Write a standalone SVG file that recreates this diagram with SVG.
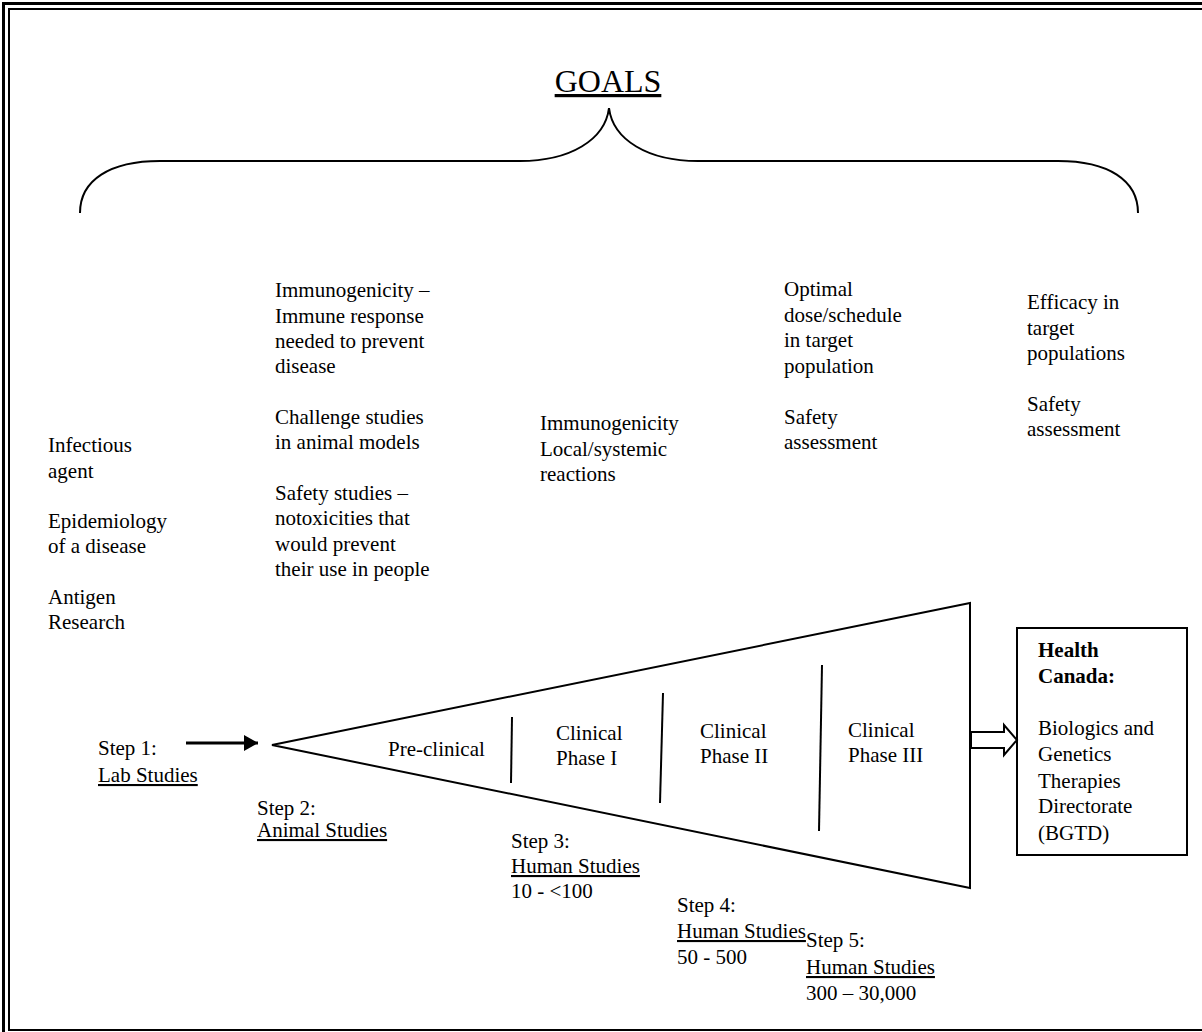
<svg xmlns="http://www.w3.org/2000/svg" width="1202" height="1032" viewBox="0 0 1202 1032">
<defs>
<style>
text{font-family:"Liberation Serif","Times New Roman",serif;font-size:21px;fill:#000}
.u{text-decoration:underline}
.b{font-weight:bold}
.ln{stroke:#000;stroke-width:2;fill:none}
</style>
<marker id="ah" viewBox="0 0 14 16" refX="14" refY="8" markerWidth="14" markerHeight="16" markerUnits="userSpaceOnUse" orient="auto">
<path d="M0,0 L14,8 L0,16 Z" fill="#000"/>
</marker>
</defs>
<rect width="1202" height="1032" fill="#fff"/>
<g id="page-border">
<rect x="3.5" y="3.5" width="1210" height="1040" fill="none" stroke="#000" stroke-width="3"/>
<rect x="9" y="9" width="1200" height="1021" fill="none" stroke="#000" stroke-width="2"/>
</g>
<g id="goals">
<text x="608" y="92" style="font-size:32px" text-anchor="middle" class="u">GOALS</text>
<path class="ln" d="M80,213 C80,180 110,161 160,161 L520,161 C570,161 605,140 609,108 C613,140 648,161 698,161 L1058,161 C1108,161 1138,180 1138,213"/>
</g>
<g id="goal-lab">
<text x="48" y="452">Infectious</text>
<text x="48" y="478">agent</text>
<text x="48" y="528">Epidemiology</text>
<text x="48" y="553">of a disease</text>
<text x="48" y="604">Antigen</text>
<text x="48" y="629">Research</text>
</g>
<g id="goal-animal">
<text x="275" y="297">Immunogenicity –</text>
<text x="275" y="323">Immune response</text>
<text x="275" y="348">needed to prevent</text>
<text x="275" y="373">disease</text>
<text x="275" y="424">Challenge studies</text>
<text x="275" y="449">in animal models</text>
<text x="275" y="500">Safety studies –</text>
<text x="275" y="525">notoxicities that</text>
<text x="275" y="551">would prevent</text>
<text x="275" y="576">their use in people</text>
</g>
<g id="goal-phase1">
<text x="540" y="430">Immunogenicity</text>
<text x="540" y="456">Local/systemic</text>
<text x="540" y="481">reactions</text>
</g>
<g id="goal-phase2">
<text x="784" y="296">Optimal</text>
<text x="784" y="322">dose/schedule</text>
<text x="784" y="347">in target</text>
<text x="784" y="373">population</text>
<text x="784" y="424">Safety</text>
<text x="784" y="449">assessment</text>
</g>
<g id="goal-phase3">
<text x="1027" y="309">Efficacy in</text>
<text x="1027" y="335">target</text>
<text x="1027" y="360">populations</text>
<text x="1027" y="411">Safety</text>
<text x="1027" y="436">assessment</text>
</g>
<g id="funnel">
<path class="ln" d="M272,745 L970,603 L970,888 Z" stroke-linejoin="miter"/>
<line class="ln" x1="512" y1="717" x2="511" y2="783"/>
<line class="ln" x1="663" y1="693" x2="660" y2="803"/>
<line class="ln" x1="822" y1="665" x2="819" y2="831"/>
<text x="388" y="756">Pre-clinical</text>
<text x="556" y="740">Clinical</text>
<text x="556" y="765">Phase I</text>
<text x="700" y="738">Clinical</text>
<text x="700" y="763">Phase II</text>
<text x="848" y="737">Clinical</text>
<text x="848" y="762">Phase III</text>
</g>
<g id="step1">
<text x="98" y="755">Step 1:</text>
<text x="98" y="782" class="u">Lab Studies</text>
</g>
<g id="step2">
<text x="257" y="815">Step 2:</text>
<text x="257" y="837" class="u">Animal Studies</text>
</g>
<g id="step3">
<text x="511" y="848">Step 3:</text>
<text x="511" y="873" class="u">Human Studies</text>
<text x="511" y="898">10 - &lt;100</text>
</g>
<g id="step4">
<text x="677" y="912">Step 4:</text>
<text x="677" y="938" class="u">Human Studies</text>
<text x="677" y="964">50 - 500</text>
</g>
<g id="step5">
<text x="806" y="947">Step 5:</text>
<text x="806" y="974" class="u">Human Studies</text>
<text x="806" y="1000">300 – 30,000</text>
</g>
<g id="health-canada">
<rect x="1017" y="628" width="170" height="227" fill="none" stroke="#000" stroke-width="2"/>
<text x="1038" y="657" class="b">Health</text>
<text x="1038" y="683" class="b">Canada:</text>
<text x="1038" y="735">Biologics and</text>
<text x="1038" y="761">Genetics</text>
<text x="1038" y="788">Therapies</text>
<text x="1038" y="813">Directorate</text>
<text x="1038" y="840">(BGTD)</text>
</g>
<g id="connectors">
<line x1="186" y1="743" x2="258" y2="743" stroke="#000" stroke-width="3" marker-end="url(#ah)"/>
<path d="M971,732 L1004,732 L1004,725 L1017,740 L1004,755 L1004,748 L971,748 Z" fill="#fff" stroke="#000" stroke-width="2" stroke-linejoin="miter"/>
</g>
</svg>
